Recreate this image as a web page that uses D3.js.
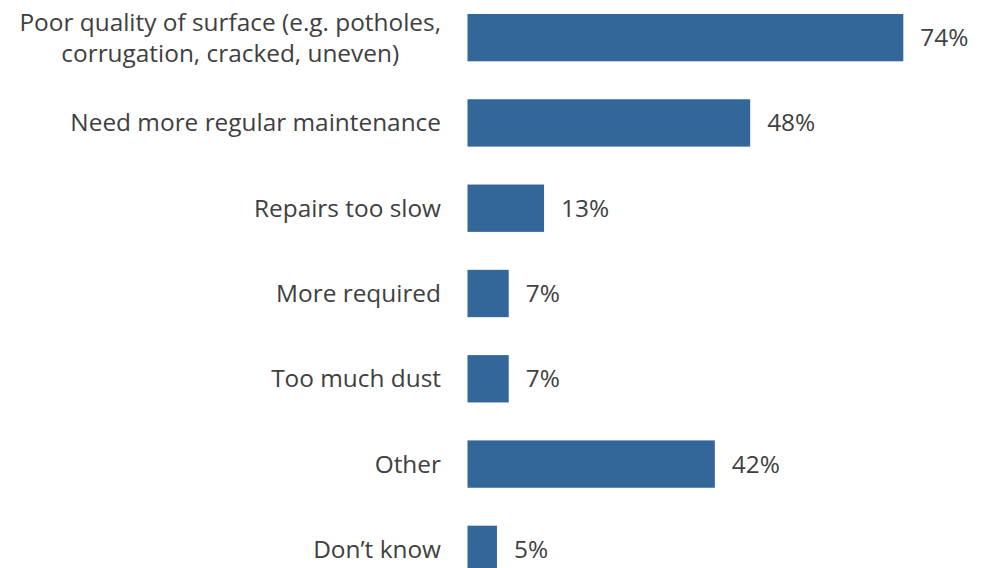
<!DOCTYPE html>
<html>
<head>
<meta charset="utf-8">
<script src="https://cdn.jsdelivr.net/npm/d3@7"></script>
<style>
  html, body { margin: 0; padding: 0; background: #ffffff; }
  svg { display: block; }
  text { font-family: "Open Sans", "Noto Sans", sans-serif; fill: #404040; }
</style>
</head>
<body>
<svg id="chart" width="986" height="568"></svg>
<script>
// Reasons given, one entry per row (multi-line labels split on "\n")
const categories = [
  "Poor quality of surface (e.g. potholes,\ncorrugation, cracked, uneven)",
  "Need more regular maintenance",
  "Repairs too slow",
  "More required",
  "Too much dust",
  "Other",
  "Don\u2019t know"
];
const values = [74, 48, 13, 7, 7, 42, 5];
const valueLabels = ["74%", "48%", "13%", "7%", "7%", "42%", "5%"];

const svg = d3.select("#chart");
const fontSize = 24.4;
const barLeft = 467.5;
const labelRight = 441;

const x = d3.scaleLinear().domain([0, 74]).range([barLeft, 903.3]);
const y = d3.scaleBand()
  .domain(d3.range(categories.length))
  .range([-5, 592])
  .paddingInner(0.445)
  .paddingOuter(0.2225);

const rows = svg.selectAll("g.row")
  .data(categories.map((c, i) => ({ cat: c, v: values[i], lbl: valueLabels[i], i })))
  .join("g")
  .attr("class", "row");

rows.append("rect")
  .attr("x", x(0))
  .attr("y", d => y(d.i))
  .attr("width", d => x(d.v) - x(0))
  .attr("height", y.bandwidth())
  .attr("fill", "#336699");

rows.append("text")
  .attr("x", d => x(d.v) + 17)
  .attr("y", d => y(d.i) + y.bandwidth() / 2)
  .attr("dy", "0.35em")
  .style("font-size", fontSize + "px")
  .text(d => d.lbl);

// Category labels: block right-aligned to the bars, lines centred within the block
rows.each(function (d) {
  const g = d3.select(this);
  const lines = d.cat.split("\n");
  const lineH = 31;
  const cy = y(d.i) + y.bandwidth() / 2;
  const t = g.append("text")
    .style("font-size", fontSize + "px")
    .attr("text-anchor", "middle");
  const spans = lines.map((ln, k) => t.append("tspan")
    .attr("y", cy + (k - (lines.length - 1) / 2) * lineH)
    .attr("dy", "0.35em")
    .text(ln));
  const widths = spans.map(s => s.node().getComputedTextLength());
  const maxW = d3.max(widths);
  spans.forEach(s => s.attr("x", labelRight - maxW / 2));
});
</script>
</body>
</html>
